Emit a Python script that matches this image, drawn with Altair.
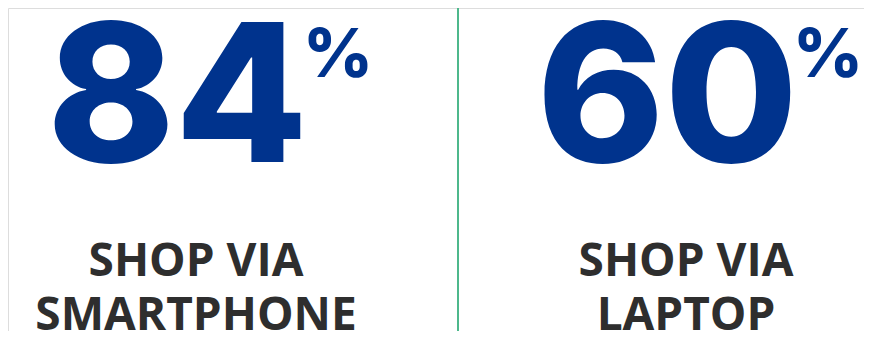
import altair as alt
import pandas as pd

devices = ["Smartphone", "Laptop"]
shares = [84, 60]
label_line1 = ["SHOP VIA", "SHOP VIA"]
label_line2 = ["SMARTPHONE", "LAPTOP"]

df = pd.DataFrame({
    "device": devices,
    "share": [str(v) for v in shares],
    "pct": ["%"] * len(devices),
    "line1": label_line1,
    "line2": label_line2,
})

W, H = 856, 323
BLUE = "#00338D"
DARK = "#2E2E2E"
GREEN = "#4DB88C"
NUMFONT = "Inter"

xscale = alt.Scale(type="point", domain=devices, range=[188, 678], padding=0)
x = alt.X("device:N", scale=xscale, axis=None)

base = alt.Chart(df)

num = base.mark_text(font=NUMFONT, fontWeight=800, fontSize=193, color=BLUE,
                     align="right", baseline="alphabetic", dx=112).encode(
    x=x, y=alt.value(154), text="share:N")

pct = base.mark_text(font=NUMFONT, fontWeight=800, fontSize=68, color=BLUE,
                     align="left", baseline="alphabetic", dx=107).encode(
    x=x, y=alt.value(69), text="pct:N")

lab1 = base.mark_text(font="Open Sans", fontWeight="bold", fontSize=46, color=DARK,
                      align="center", baseline="alphabetic").encode(
    x=x, y=alt.value(268), text="line1:N")

lab2 = base.mark_text(font="Open Sans", fontWeight="bold", fontSize=46, color=DARK,
                      align="center", baseline="alphabetic").encode(
    x=x, y=alt.value(322), text="line2:N")

divider = alt.Chart(pd.DataFrame({"d": [0]})).mark_rule(color=GREEN, strokeWidth=2).encode(
    x=alt.value(450), y=alt.value(0), y2=alt.value(H))

chart = alt.layer(divider, num, pct, lab1, lab2).properties(
    width=W, height=H, padding=0, autosize=alt.AutoSizeParams(type="none")
).configure_view(strokeWidth=0, stroke="transparent").configure(background="white")

chart.save("out.html", embed_options={"renderer": "svg", "actions": False})
